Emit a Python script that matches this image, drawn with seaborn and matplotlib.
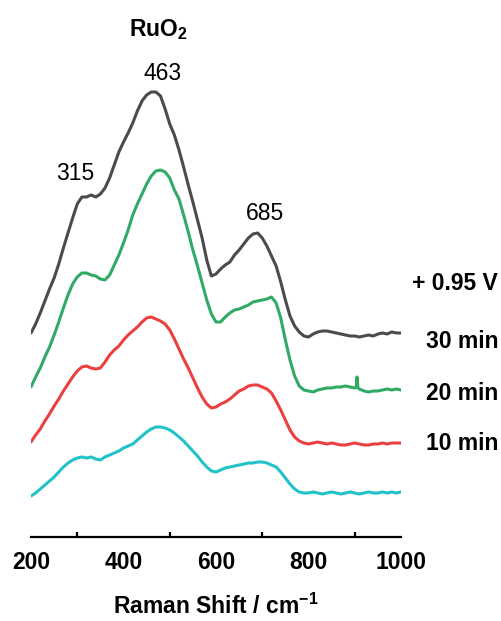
import numpy as np
import pandas as pd
import matplotlib
matplotlib.use("Agg")
import matplotlib.pyplot as plt
import seaborn as sns

# Raman shift grid (cm^-1)
shift = list(range(200, 1001, 10))

# Baseline-corrected intensities (a.u.) for each polarisation time at +0.95 V
ruo2_10min = [-3, 0, 4, 8, 12, 16, 21, 26, 30, 33, 35, 36, 35, 36, 34, 33, 36, 38, 40, 42,
              45, 47, 49, 53, 57, 61, 64, 66, 66, 65, 63, 60, 56, 52, 47, 42, 37, 31, 26, 22,
              21, 23, 25, 26, 27, 28, 29, 30, 30, 31, 31, 30, 28, 26, 21, 15, 9, 4, 1, 0,
              0, 1, 0, -1, 0, 1, 0, -1, 0, 1, 0, -1, 0, 1, 0, 0, 1, 0, 1, 0, 1]
ruo2_20min = [1, 8, 14, 22, 29, 37, 44, 52, 59, 66, 72, 76, 77, 75, 74, 75, 81, 88, 93, 97,
              103, 108, 112, 116, 121, 125, 126, 124, 122, 119, 113, 104, 94, 84, 75, 65, 55, 46, 39, 35,
              36, 39, 41, 44, 48, 52, 54, 57, 58, 58, 56, 54, 50, 42, 33, 23, 13, 6, 2, 0,
              -1, 0, 1, 0, -1, 0, -1, -2, -2, -1, 0, -1, -2, -2, -1, -1, 0, -1, 0, 0, 0]
ruo2_30min = [3, 13, 22, 33, 43, 55, 68, 82, 95, 106, 113, 117, 117, 115, 114, 111, 110, 115, 125, 135,
              147, 160, 175, 186, 196, 206, 214, 219, 220, 218, 212, 200, 191, 175, 158, 140, 124, 107, 90, 76,
              68, 68, 73, 77, 80, 81, 83, 85, 88, 89, 90, 91, 93, 87, 72, 50, 30, 14, 4, 0,
              -1, -2, 0, 1, 2, 2, 3, 3, 4, 3, 2, 1, -1, -2, -1, -1, 0, 1, 0, 1, 0]
ruo2_0min = [0, 9, 20, 32, 44, 55, 69, 85, 100, 115, 129, 136, 136, 138, 136, 139, 145, 155, 168, 181,
             191, 200, 210, 222, 232, 238, 241, 241, 237, 224, 209, 198, 183, 166, 148, 131, 113, 95, 73, 57,
             59, 64, 68, 71, 78, 83, 89, 95, 99, 100, 95, 87, 77, 67, 51, 33, 17, 7, 1, -3,
             -4, -1, 1, 2, 2, 1, 0, -1, -2, -3, -3, -4, -3, -2, -3, -1, 0, -1, 1, 0, 0]

# Narrow cosmic-ray spike in the 20 min spectrum
spike_shift = [903, 905, 907]
spike_counts = [3, 13, 2]

series_names = ["10 min", "20 min", "30 min", "+ 0.95 V"]
stack_offsets = [44, 94, 147, 204]
colors = ["#22c2c8", "#ea4140", "#31aa65", "#4b4b4b"]

peak_positions = [315, 463, 685]
peak_label_y = [364, 464, 324]
side_label_y = [93, 144, 196, 254]
side_labels = ["10 min", "20 min", "30 min", "+ 0.95 V"]

frames = []
for name, vals, off in zip(series_names,
                           [ruo2_10min, ruo2_20min, ruo2_30min, ruo2_0min],
                           stack_offsets):
    xs, ys = list(shift), list(vals)
    if name == "30 min":
        xs += spike_shift
        ys += spike_counts
    df = pd.DataFrame({"shift": xs, "intensity": np.array(ys) + off, "series": name})
    frames.append(df.sort_values("shift"))
data = pd.concat(frames, ignore_index=True)

sns.set_style("white")
plt.rcParams["font.family"] = ["Liberation Sans", "DejaVu Sans"]
plt.rcParams["text.color"] = "black"
plt.rcParams["axes.labelcolor"] = "black"
plt.rcParams["mathtext.fontset"] = "custom"
plt.rcParams["mathtext.rm"] = "Liberation Sans"
plt.rcParams["mathtext.bf"] = "Liberation Sans:bold"

fig = plt.figure(figsize=(5.02, 6.21), dpi=100)
ax = fig.add_axes([31 / 502, 84 / 621, 370 / 502, 477 / 621])

sns.lineplot(data=data, x="shift", y="intensity", hue="series",
             hue_order=series_names, palette=colors, linewidth=2.2,
             legend=False, ax=ax, sort=False, estimator=None)

ax.set_xlim(200, 1000)
ax.set_ylim(0, 477)
ax.set_yticks([])
ax.set_ylabel("")
for s in ["left", "right", "top"]:
    ax.spines[s].set_visible(False)
ax.spines["bottom"].set_linewidth(1.6)
ax.spines["bottom"].set_color("black")

ax.set_xticks([200, 400, 600, 800, 1000])
ax.set_xticks([300, 500, 700, 900], minor=True)
ax.tick_params(axis="x", which="major", direction="in", length=7, width=1.6,
               colors="black", pad=10, labelsize=16.5)
ax.tick_params(axis="x", which="minor", direction="in", length=3.5, width=1.6,
               colors="black", bottom=True)
for lab in ax.get_xticklabels():
    lab.set_fontweight("bold")

ax.set_xlabel(r"Raman Shift / cm$^{\mathbf{-1}}$", fontsize=16.5,
              fontweight="bold", color="black", labelpad=14)

for pos, ly in zip(peak_positions, peak_label_y):
    xoff = {315: -20, 463: 22, 685: 21}[pos]
    ax.text(pos + xoff, ly, str(pos), ha="center", va="center",
            fontsize=16.5, color="black", clip_on=False)

for txt, ly in zip(side_labels, side_label_y):
    ax.text(1210, ly, txt, ha="right", va="center", fontsize=16.5,
            fontweight="bold", color="black", clip_on=False)

ax.text(475, 507, r"RuO$_\mathbf{2}$", ha="center", va="center",
        fontsize=16.5, fontweight="bold", color="black", clip_on=False)

fig.savefig("out.png", dpi=100)
